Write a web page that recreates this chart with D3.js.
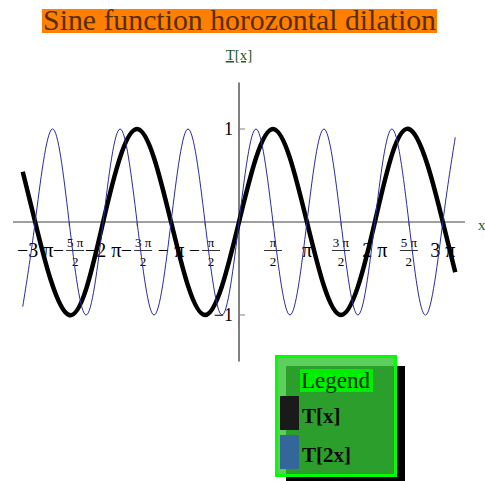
<!DOCTYPE html>
<html>
<head>
<meta charset="utf-8">
<script src="https://cdn.jsdelivr.net/npm/d3@7"></script>
<style>
  body { margin: 0; background: #fff; }
  text { font-family: "Liberation Serif", "Times New Roman", serif; }
</style>
</head>
<body>
<div id="chart"></div>
<script>
// points, x in multiples of pi
const tx_x = [-3.183, -3, -2.5, -2, -1.5, -1, -0.5, 0, 0.5, 1, 1.5, 2, 2.5, 3, 3.183];
const tx_y = [0.54, 0, -1, 0, 1, 0, -1, 0, 1, 0, -1, 0, 1, 0, -0.54];

const t2x_x = [-3.183, -3, -2.75, -2.5, -2.25, -2, -1.75, -1.5, -1.25, -1, -0.75, -0.5, -0.25, 0,
               0.25, 0.5, 0.75, 1, 1.25, 1.5, 1.75, 2, 2.25, 2.5, 2.75, 3, 3.183];
const t2x_y = [-0.91, 0, 1, 0, -1, 0, 1, 0, -1, 0, 1, 0, -1, 0,
               1, 0, -1, 0, 1, 0, -1, 0, 1, 0, -1, 0, 0.91];

const xTickValues = [-3, -2.5, -2, -1.5, -1, -0.5, 0.5, 1, 1.5, 2, 2.5, 3];
const xTickLabels = ["−3π", "−5π/2", "−2π", "−3π/2", "−π", "−π/2", "π/2", "π", "3π/2", "2π", "5π/2", "3π"];
const yTickValues = [1, -1];
const yTickLabels = ["1", "−1"];

const legendNames = ["T[x]", "T[2x]"];
const legendColors = ["#1a1a1a", "#336699"];

const width = 485, height = 481;

const svg = d3.select("#chart").append("svg")
    .attr("width", width)
    .attr("height", height);

// title with orange box
const title = svg.append("text")
    .attr("x", 239.5)
    .attr("y", 30)
    .attr("text-anchor", "middle")
    .attr("fill", "#5a2d00")
    .style("font-size", "26px")
    .text("Sine function horozontal dilation");
let tl = title.node().getComputedTextLength();
title.style("font-size", (26 * 393 / tl) + "px");
svg.insert("rect", "text")
    .attr("x", 42).attr("y", 9)
    .attr("width", 395).attr("height", 24)
    .attr("fill", "#ff8000");

const x = d3.scaleLinear().domain([-10.45, 10.45]).range([13, 465]);
const y = d3.scaleLinear().domain([-1.5, 1.5]).range([361.5, 82.5]);

// axes
svg.append("line")
    .attr("x1", x(-10.45)).attr("x2", x(10.45))
    .attr("y1", y(0)).attr("y2", y(0))
    .attr("stroke", "#808080").attr("stroke-width", 1.5);
svg.append("line")
    .attr("x1", x(0)).attr("x2", x(0))
    .attr("y1", y(1.5)).attr("y2", y(-1.5))
    .attr("stroke", "#000").attr("stroke-width", 1);

svg.selectAll(".ytick").data(yTickValues).enter().append("line")
    .attr("x1", x(0) + 1).attr("x2", x(0) + 6)
    .attr("y1", d => y(d)).attr("y2", d => y(d))
    .attr("stroke", "#808080").attr("stroke-width", 1);

svg.selectAll(".ylab").data(yTickValues).enter().append("text")
    .attr("x", x(0) - 6)
    .attr("y", d => y(d) + 6)
    .attr("text-anchor", "end")
    .style("font-size", "18px")
    .text((d, i) => yTickLabels[i]);

svg.selectAll(".xtick").data(xTickValues).enter().append("line")
    .attr("x1", d => x(d * Math.PI)).attr("x2", d => x(d * Math.PI))
    .attr("y1", y(0)).attr("y2", y(0) + 4)
    .attr("stroke", "#808080").attr("stroke-width", 1);

// x tick labels, fractions drawn stacked
xTickValues.forEach((v, i) => {
    const lab = xTickLabels[i];
    const cx = x(v * Math.PI);
    const g = svg.append("g").attr("transform", `translate(${cx},${y(0) + 28})`);
    if (lab.indexOf("/") < 0) {
        g.append("text")
            .attr("text-anchor", "middle")
            .attr("y", 7)
            .style("font-size", "20px")
            .text(lab.replace("π", " π"));
        return;
    }
    const neg = lab[0] === "−";
    const body = neg ? lab.slice(1) : lab;
    const parts = body.split("/");
    const fw = 18;
    const off = neg ? 6 : 0;
    if (neg) {
        g.append("text")
            .attr("x", off - fw / 2 - 2)
            .attr("y", 7)
            .attr("text-anchor", "end")
            .style("font-size", "20px")
            .text("−");
    }
    g.append("text")
        .attr("x", off).attr("y", -3)
        .attr("text-anchor", "middle")
        .style("font-size", "13px")
        .text(parts[0].replace("π", " π"));
    g.append("line")
        .attr("x1", off - fw / 2).attr("x2", off + fw / 2)
        .attr("y1", 0.5).attr("y2", 0.5)
        .attr("stroke", "#000").attr("stroke-width", 0.8);
    g.append("text")
        .attr("x", off).attr("y", 16)
        .attr("text-anchor", "middle")
        .style("font-size", "13px")
        .text(parts[1]);
});

// curves
const line = d3.line()
    .x(d => x(d[0] * Math.PI))
    .y(d => y(d[1]))
    .curve(d3.curveNatural);

svg.append("path")
    .datum(d3.zip(tx_x, tx_y))
    .attr("d", line)
    .attr("fill", "none")
    .attr("stroke", "#000")
    .attr("stroke-width", 4.5);

svg.append("path")
    .datum(d3.zip(t2x_x, t2x_y))
    .attr("d", line)
    .attr("fill", "none")
    .attr("stroke", "#2b2b99")
    .attr("stroke-width", 1);

// axis labels
svg.append("text")
    .attr("x", x(0)).attr("y", 60)
    .attr("text-anchor", "middle")
    .attr("fill", "#1e5a1e")
    .style("font-size", "15px")
    .style("text-decoration", "underline")
    .text("T[x]");
svg.append("text")
    .attr("x", 478).attr("y", 230)
    .attr("fill", "#1e5a1e")
    .style("font-size", "15px")
    .text("x");

// legend
const legend = svg.append("g").attr("class", "legend");
legend.append("rect")
    .attr("x", 286).attr("y", 366)
    .attr("width", 119).attr("height", 115)
    .attr("fill", "#000");
legend.append("rect")
    .attr("x", 276.5).attr("y", 356.5)
    .attr("width", 119).attr("height", 119)
    .attr("fill", "#5ccf5c")
    .attr("stroke", "#00ff00").attr("stroke-width", 3);
legend.append("rect")
    .attr("x", 286).attr("y", 366)
    .attr("width", 108).attr("height", 108)
    .attr("fill", "#2c9e2c");
legend.append("rect")
    .attr("x", 300).attr("y", 369)
    .attr("width", 73).attr("height", 23)
    .attr("fill", "#00ee00");
legend.append("text")
    .attr("x", 301).attr("y", 388)
    .attr("fill", "#063006")
    .style("font-size", "23px")
    .text("Legend");

legend.selectAll(".sw").data(legendNames).enter().append("rect")
    .attr("x", 280).attr("y", (d, i) => 396 + i * 39)
    .attr("width", 19).attr("height", 34)
    .attr("fill", (d, i) => legendColors[i]);

legend.selectAll(".lab").data(legendNames).enter().append("text")
    .attr("x", 302).attr("y", (d, i) => 423 + i * 39)
    .style("font-size", "21px")
    .style("font-weight", "bold")
    .attr("fill", "#0a0a0a")
    .text(d => d);
</script>
</body>
</html>
